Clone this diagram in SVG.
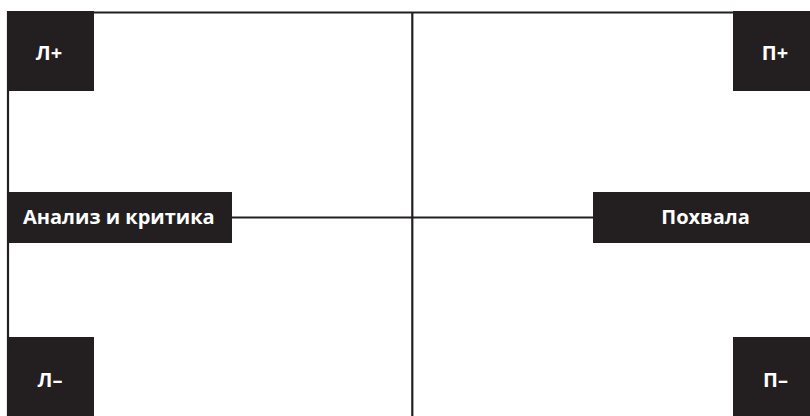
<svg xmlns="http://www.w3.org/2000/svg" width="810" height="416" viewBox="0 0 810 416">
<style>
.box{fill:#231f20}
.ln{stroke:#231f20;stroke-width:2.2;fill:none}
.t{fill:#ffffff;font-family:"Open Sans","Noto Sans",sans-serif;font-weight:bold;font-size:20px}
</style>
<rect width="810" height="416" fill="#ffffff"/>
<g id="connectors">
<line class="ln" x1="8" y1="12.5" x2="810" y2="12.5"/>
<line class="ln" x1="8" y1="11" x2="8" y2="416"/>
<line class="ln" x1="412.3" y1="12" x2="412.3" y2="416"/>
<line class="ln" x1="232" y1="217.5" x2="593" y2="217.5"/>
</g>
<g id="lp"><rect class="box" x="7" y="11" width="87" height="80"/><text class="t" x="49" y="60" text-anchor="middle">Л+</text></g>
<g id="pp"><rect class="box" x="733" y="11" width="77" height="80"/><text class="t" x="775" y="60" text-anchor="middle">П+</text></g>
<g id="analiz"><rect class="box" x="7" y="192" width="225" height="51"/><text class="t" x="23" y="224">Анализ и критика</text></g>
<g id="pohvala"><rect class="box" x="593" y="192" width="217" height="51"/><text class="t" x="705.5" y="224" text-anchor="middle">Похвала</text></g>
<g id="lm"><rect class="box" x="7" y="337" width="87" height="79"/><text class="t" x="50" y="387" text-anchor="middle">Л–</text></g>
<g id="pm"><rect class="box" x="733" y="337" width="77" height="79"/><text class="t" x="775.5" y="387" text-anchor="middle">П–</text></g>
</svg>
